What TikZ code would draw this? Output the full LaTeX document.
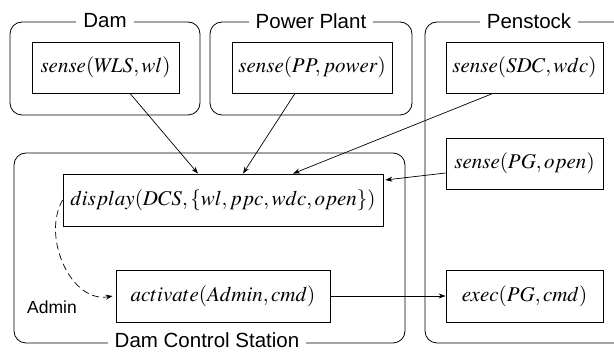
\documentclass[tikz,border=0pt]{standalone}
\usepackage{mathptmx}
\usepackage[no-math]{fontspec}
\newfontfamily\labelfont{Liberation Sans}
\usetikzlibrary{arrows.meta}
\begin{document}
\begin{tikzpicture}[x=1pt,y=-1pt,
  every node/.style={inner sep=0pt},
  fn/.style={draw, line width=0.8pt, font=\fontsize{21}{25}\selectfont},
  grp/.style={draw, rounded corners=12pt, line width=0.8pt},
  grplabel/.style={fill=white, inner xsep=7pt, inner ysep=1pt, font=\labelfont\fontsize{20.5}{24}\selectfont},
  arr/.style={-{Stealth[length=7pt,width=5pt]}, line width=0.7pt}]
\useasboundingbox (0,0) rectangle (614,352);
\clip (0,0) rectangle (614,352);

% containers
\draw[grp] (10,22) rectangle (200,115);
\draw[grp] (210,22) rectangle (412,115);
\draw[grp] (425,22) rectangle (645,343);
\draw[grp] (14,153) rectangle (405,343);

\node[grplabel] (lDam) at (105,21) {Dam};
\node[grplabel] (lPlant) at (311,21) {Power Plant};
\node[grplabel] (lPen) at (529,21) {Penstock};
\node[grplabel] (lDcs) at (207,340.5) {Dam Control Station};

% actions
\node[fn, minimum width=147pt, minimum height=51pt] (wls) at (105.5,67.5) {$sense(W\!LS, wl)$};
\node[fn, minimum width=160pt, minimum height=51pt] (pp) at (312,67.5) {$sense(PP, power)$};
\node[fn, minimum width=157pt, minimum height=51pt] (sdc) at (524.5,67.5) {$sense(SDC, wdc)$};
\node[fn, minimum width=157pt, minimum height=51pt] (pgo) at (524.5,163.5) {$sense(PG, open)$};
\node[fn, minimum width=157pt, minimum height=52pt] (exec) at (524.5,296) {$exec(PG, cmd)$};
\node[fn, minimum width=320pt, minimum height=52pt] (disp) at (223,200) {$display(DCS, \{wl, ppc, wdc, open\})$};
\node[fn, minimum width=214pt, minimum height=52pt] (act) at (223,296) {$activate(Admin, cmd)$};

\node[font=\labelfont\fontsize{17.5}{20}\selectfont] (adm) at (52,307) {Admin};

% flows
\draw[arr] ([xshift=24.5pt]wls.south) -- ([xshift=-25pt]disp.north);
\draw[arr] ([xshift=-17pt]pp.south) -- ([xshift=20pt]disp.north);
\draw[arr] ([xshift=-31.5pt]sdc.south) -- ([xshift=70pt]disp.north);
\draw[arr] ([yshift=-9.5pt]pgo.west) -- ([yshift=20pt,xshift=2pt]disp.east);
\draw[arr] (act.east) -- (exec.west);
\draw[arr, dash pattern=on 7pt off 4pt] (disp.west) to[out=240,in=190] ([xshift=-3pt]act.west);
\end{tikzpicture}
\end{document}
